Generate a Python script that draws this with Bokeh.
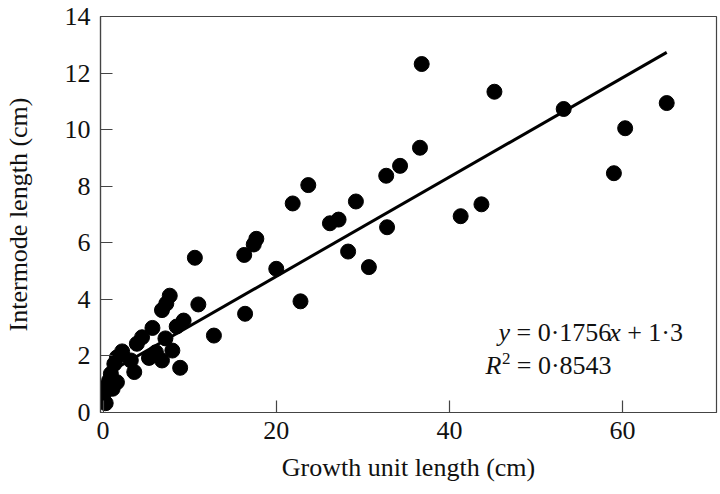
from bokeh.plotting import figure
from bokeh.models import Range1d, FixedTicker, Label, ColumnDataSource
from bokeh.embed import file_html
from bokeh.resources import INLINE

# ---- data ----
growth_unit_cm = [36.8, 45.2, 53.2, 65.1, 60.3, 59.0, 36.6, 34.3, 32.7, 23.7,
                  21.9, 29.2, 27.2, 26.2, 43.7, 41.3, 32.8, 17.7, 17.4, 16.3,
                  28.3, 30.7, 20.0, 22.8, 10.6, 16.4, 12.8, 11.0, 7.7, 7.3,
                  6.8, 9.3, 8.5, 5.7, 4.5, 3.9, 7.2, 8.0, 6.1, 5.3,
                  6.8, 8.9, 2.2, 1.6, 3.2, 3.6, 1.3, 0.9, 1.6, 0.7,
                  0.3, 0.1, 0.3, 1.1]
internode_cm = [12.32, 11.34, 10.73, 10.94, 10.05, 8.46, 9.36, 8.72, 8.37, 8.04,
                7.39, 7.46, 6.82, 6.69, 7.36, 6.94, 6.55, 6.14, 5.94, 5.57,
                5.69, 5.14, 5.08, 3.93, 5.47, 3.49, 2.72, 3.82, 4.13, 3.85,
                3.62, 3.25, 3.04, 2.99, 2.66, 2.43, 2.62, 2.19, 2.13, 1.93,
                1.84, 1.58, 2.16, 1.95, 1.84, 1.43, 1.72, 1.37, 1.07, 1.13,
                0.90, 0.66, 0.33, 0.84]
fit_slope = 0.1756
fit_intercept = 1.3
x_ticks = [0, 20, 40, 60]
y_ticks = [0, 2, 4, 6, 8, 10, 12, 14]

FONT = "Liberation Serif"
AX = "#444444"
TXT = "#111111"

p = figure(width=720, height=494, output_backend="svg", toolbar_location=None,
           x_range=Range1d(-0.3, 70.85), y_range=Range1d(0, 14),
           min_border_left=96, min_border_right=4, min_border_top=16,
           min_border_bottom=82)
p.background_fill_color = "white"
p.border_fill_color = "white"
p.outline_line_color = AX
p.outline_line_width = 1.2
p.xgrid.visible = False
p.ygrid.visible = False

for ax, ticks in ((p.xaxis, x_ticks), (p.yaxis, y_ticks)):
    ax.ticker = FixedTicker(ticks=ticks)
    ax.minor_tick_line_color = None
    ax.major_tick_in = 12
    ax.major_tick_out = 0
    ax.major_tick_line_color = AX
    ax.major_tick_line_width = 1.2
    ax.axis_line_color = AX
    ax.axis_line_width = 1.2
    ax.major_label_text_font = FONT
    ax.major_label_text_font_size = "26px"
    ax.major_label_text_color = TXT
    ax.axis_label_text_font = FONT
    ax.axis_label_text_font_size = "26px"
    ax.axis_label_text_font_style = "normal"
    ax.axis_label_text_color = TXT

p.xaxis.major_label_standoff = 9
p.yaxis.major_label_standoff = 10
p.xaxis.axis_label = "Growth unit length (cm)"
p.xaxis.axis_label_standoff = 11
p.yaxis.axis_label = "Intermode length (cm)"
p.yaxis.axis_label_standoff = 29

# regression line from the fitted equation over the data span
x0, x1 = min(growth_unit_cm), max(growth_unit_cm)
line_src = ColumnDataSource(dict(x=[x0, x1],
                                 y=[fit_slope * x0 + fit_intercept,
                                    fit_slope * x1 + fit_intercept]))
p.line("x", "y", source=line_src, line_color="black", line_width=3)

pts = ColumnDataSource(dict(x=growth_unit_cm, y=internode_cm))
p.scatter("x", "y", source=pts, size=15, marker="circle",
          fill_color="black", line_color="black")

# equation annotation (frame-relative screen units; pieces so variables are italic)
def lab(x, y, t, style="normal", size="26px"):
    p.add_layout(Label(x=x, y=y, x_units="screen", y_units="screen", text=t,
                       text_font=FONT, text_font_size=size,
                       text_font_style=style, text_color=TXT,
                       text_baseline="middle", text_align="left"))

c1, c2 = 80, 47
lab(398, c1, "y", "italic")
lab(416, c1, "= 0\u00b71756")
lab(508.7, c1, "x", "italic")
lab(526.7, c1, "+ 1\u00b73")
lab(385, c2, "R", "italic")
lab(401.5, c2 + 7, "2", size="17px")
lab(416.3, c2, "= 0\u00b78543")

open("out.html", "w").write(file_html(p, INLINE))
